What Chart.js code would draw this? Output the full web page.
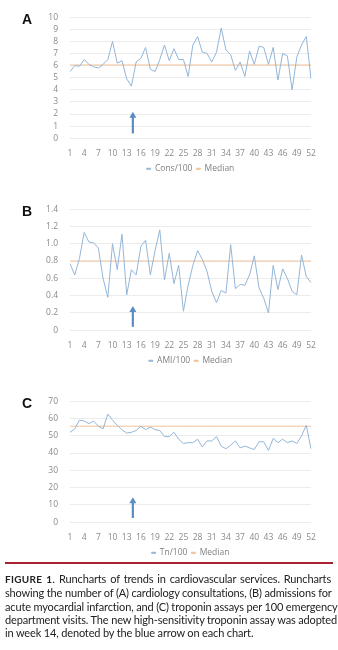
<!DOCTYPE html>
<html>
<head>
<meta charset="utf-8">
<script src="https://cdn.jsdelivr.net/npm/chart.js@4.4.1/dist/chart.umd.min.js"></script>
<style>
  body { margin: 0; background: #fff; width: 338px; height: 650px; overflow: hidden; position: relative; }
  .panel { position: absolute; left: 0; width: 338px; height: 186px; }
  .tag { position: absolute; left: 22px; font: bold 14px "Liberation Sans", Arial, sans-serif; color: #111; }
  .rule { position: absolute; left: 5px; width: 328px; top: 562px; height: 2px; background: #a8232f; }
  .caption { position: absolute; left: 5px; width: 326px; top: 572px; font: 11px Lato, "Noto Sans", sans-serif; letter-spacing: -0.15px; line-height: 13.3px; color: #222; }
  .caption div { white-space: nowrap; text-align: justify; text-align-last: justify; }
  .caption div.last { text-align-last: left; }
  .caption b { font-size: 10px; letter-spacing: 0.3px; }
</style>
</head>
<body>
<div class="panel" style="top:0px"><canvas id="chartA"></canvas></div>
<div class="panel" style="top:192px"><canvas id="chartB"></canvas></div>
<div class="panel" style="top:384px"><canvas id="chartC"></canvas></div>
<div class="tag" style="top:11px">A</div>
<div class="tag" style="top:203px">B</div>
<div class="tag" style="top:395px">C</div>
<div class="rule"></div>
<div class="caption">
  <div><b>FIGURE 1.</b> Runcharts of trends in cardiovascular services. Runcharts</div>
  <div>showing the number of (A) cardiology consultations, (B) admissions for</div>
  <div>acute myocardial infarction, and (C) troponin assays per 100 emergency</div>
  <div>department visits. The new high-sensitivity troponin assay was adopted</div>
  <div class="last">in week 14, denoted by the blue arrow on each chart.</div>
</div>
<script>
// weeks 1..52
const weeks = ['1','2','3','4','5','6','7','8','9','10','11','12','13','14','15','16','17','18','19','20',
  '21','22','23','24','25','26','27','28','29','30','31','32','33','34','35','36','37','38','39','40',
  '41','42','43','44','45','46','47','48','49','50','51','52'];

// cardiology consultations per 100 ED visits
const cons = [5.5, 6.0, 5.95, 6.5, 6.1, 5.9, 5.8, 6.1, 6.5, 8.0, 6.2, 6.4, 4.9, 4.3, 6.3, 6.6, 7.5, 5.7, 5.5, 6.5,
  7.7, 6.4, 7.4, 6.5, 6.5, 5.1, 7.7, 8.4, 7.1, 7.0, 6.3, 7.1, 9.1, 7.3, 6.9, 5.6, 6.3, 5.1, 7.2, 6.1,
  7.6, 7.5, 6.1, 7.5, 4.8, 7.0, 6.8, 4.0, 6.7, 7.7, 8.4, 4.9];
const consMedian = 6.05;

// AMI admissions per 100 ED visits
const ami = [0.77, 0.64, 0.83, 1.13, 1.02, 1.01, 0.95, 0.60, 0.38, 1.00, 0.70, 1.11, 0.41, 0.70, 0.64, 0.97, 1.04, 0.64, 0.92, 1.16,
  0.58, 0.89, 0.54, 0.75, 0.22, 0.52, 0.75, 0.92, 0.82, 0.68, 0.45, 0.32, 0.46, 0.43, 0.99, 0.48, 0.53, 0.52, 0.64, 0.86,
  0.49, 0.37, 0.20, 0.75, 0.47, 0.71, 0.60, 0.45, 0.41, 0.87, 0.62, 0.55];
const amiMedian = 0.8;

// troponin assays per 100 ED visits
const tn = [52, 54, 59, 58.5, 57, 58.5, 55.5, 54, 62.5, 59, 56, 53.5, 51.5, 52, 53, 55.5, 53.5, 55, 53.5, 53,
  49.5, 49.5, 52, 48, 45.5, 46, 46, 48, 43.5, 47, 47, 49.5, 44, 42.5, 44.5, 47, 43, 44, 43, 42,
  46.5, 46.5, 41.5, 48.5, 46, 48, 46, 47, 45.5, 50, 56, 42.5];
const tnMedian = 55.5;

// blue arrow: week it sits at, and its bottom/top in each chart's units
const arrowWeek = 14.3;
const arrowA = [0.4, 2.2];
const arrowB = [0.04, 0.28];
const arrowC = [2.5, 14.5];

const seriesColor = '#93b6d8';
const medianColor = '#f2c096';
const tickColor = '#8a8a8a';

const arrowPlugin = {
  id: 'arrowMark',
  afterDatasetsDraw(chart, args, opts) {
    const x = chart.scales.x.getPixelForValue(opts.week - 1);
    const yBot = chart.scales.y.getPixelForValue(opts.range[0]);
    const yTop = chart.scales.y.getPixelForValue(opts.range[1]);
    const ctx = chart.ctx;
    ctx.save();
    ctx.strokeStyle = '#5b8cc4';
    ctx.fillStyle = '#5b8cc4';
    ctx.lineWidth = 2.2;
    ctx.beginPath();
    ctx.moveTo(x, yBot);
    ctx.lineTo(x, yTop + 5);
    ctx.stroke();
    ctx.beginPath();
    ctx.moveTo(x, yTop);
    ctx.lineTo(x - 3.5, yTop + 6);
    ctx.lineTo(x + 3.5, yTop + 6);
    ctx.closePath();
    ctx.fill();
    ctx.restore();
  }
};

// the legend sits centred under the plot area, not the whole canvas
const legendShift = {
  id: 'legendShift',
  afterLayout(chart) {
    const dx = (chart.chartArea.left + chart.chartArea.right) / 2 - (chart.legend.left + chart.legend.right) / 2;
    chart.legend.left += dx;
    chart.legend.right += dx;
  }
};

function makeChart(id, label, values, median, yMax, step, arrowRange) {
  return new Chart(document.getElementById(id), {
    type: 'line',
    data: {
      labels: weeks,
      datasets: [{
        label: label,
        data: values,
        borderColor: seriesColor,
        backgroundColor: seriesColor,
        borderWidth: 1,
        pointRadius: 0,
        tension: 0
      }, {
        label: 'Median',
        data: weeks.map(() => median),
        borderColor: medianColor,
        backgroundColor: medianColor,
        borderWidth: 1,
        pointRadius: 0
      }]
    },
    options: {
      responsive: true,
      maintainAspectRatio: false,
      animation: false,
      layout: { padding: { left: 30, right: 27, top: 2, bottom: 3 } },
      scales: {
        x: {
          grid: { display: false },
          border: { display: false },
          ticks: {
            color: tickColor,
            font: { family: 'Open Sans', size: 8.5 },
            autoSkip: false,
            maxRotation: 0,
            padding: 2,
            callback: (v, i) => (i % 3 === 0 ? weeks[i] : '')
          }
        },
        y: {
          min: 0,
          max: yMax,
          afterFit: (s) => { s.width = 40; },
          grid: { color: '#ececec', drawTicks: false },
          border: { display: false },
          ticks: {
            stepSize: step,
            autoSkip: false,
            color: tickColor,
            font: { family: 'Open Sans', size: 8.5 },
            padding: 12
          }
        }
      },
      plugins: {
        legend: {
          position: 'bottom',
          labels: {
            color: '#808080',
            font: { family: 'Open Sans', size: 8.5 },
            boxWidth: 4,
            boxHeight: 1,
            padding: 4
          }
        },
        tooltip: { enabled: false },
        arrowMark: { week: arrowWeek, range: arrowRange }
      }
    },
    plugins: [arrowPlugin, legendShift]
  });
}

makeChart('chartA', 'Cons/100', cons, consMedian, 10, 1, arrowA);
makeChart('chartB', 'AMI/100', ami, amiMedian, 1.4, 0.2, arrowB);
makeChart('chartC', 'Tn/100', tn, tnMedian, 70, 10, arrowC);
</script>
</body>
</html>
